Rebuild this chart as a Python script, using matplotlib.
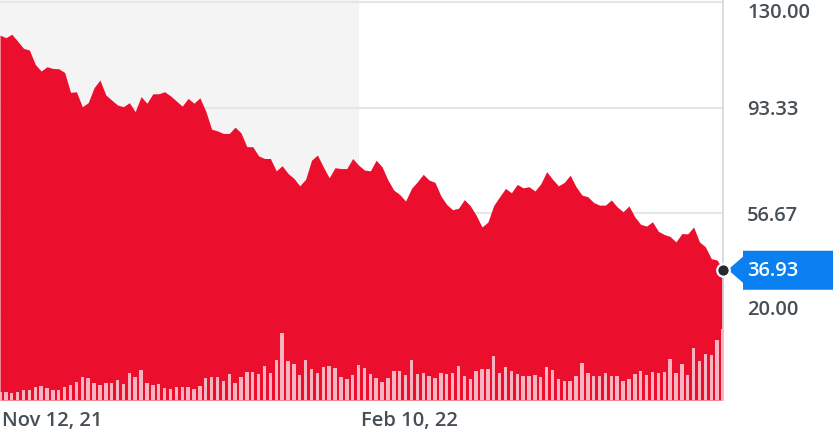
import numpy as np
import matplotlib.pyplot as plt
from matplotlib import transforms
from matplotlib.patches import Polygon

# daily close, Nov 12 2021 onwards
price = [118.5, 117.6, 118.8, 116.4, 113.9, 113.3, 108.3, 106.0, 107.5, 106.9, 106.8,
         105.5, 98.6, 98.8, 93.6, 95.0, 100.2, 102.9, 97.7, 95.9, 94.2,
         93.6, 95.0, 91.9, 97.1, 94.8, 98.1, 98.1, 98.8, 97.4, 95.6, 93.8,
         96.5, 94.8, 96.7, 92.1, 85.8, 85.2, 84.3, 84.3, 86.5, 84.5,
         79.7, 79.7, 76.5, 75.6, 75.6, 71.3, 73.1, 70.4, 68.7, 66.1,
         68.4, 75.0, 76.8, 72.7, 68.9, 72.4, 72.1, 72.1, 75.6, 73.3,
         71.6, 71.3, 75.0, 72.7, 68.1, 64.6, 63.1, 60.8, 65.2, 67.5,
         70.1, 68.1, 67.3, 62.6, 59.6, 57.8, 58.3, 61.3, 59.2, 55.9,
         51.8, 53.5, 59.3, 62.3, 65.2, 63.7, 66.6, 65.4, 65.8, 64.3,
         66.8, 71.0, 68.4, 66.1, 67.3, 69.8, 65.8, 62.9, 62.3, 60.3,
         59.4, 59.4, 61.2, 58.8, 57.1, 59.1, 55.3, 52.7, 52.1, 53.6, 50.3,
         49.2, 48.5, 46.6, 49.5, 49.4, 51.8, 46.6, 44.9, 40.8, 40.3, 36.93]

volume = [8, 8, 7.3, 8, 10, 10, 13, 14, 11.7, 10, 9.7, 13.3, 15, 18, 23, 22.3,
          16.7, 15, 17.3, 16.7, 20, 15.7,
          26.7, 23.3, 29.7, 16.7, 14.7, 15.7, 11.7, 11.3, 13.3, 13.3, 13, 10.7,
          14, 22, 23, 23, 18.7, 26.3, 17.3, 22.7,
          28, 28, 26, 34, 27.3, 40, 66.7, 39, 36.3, 24.7, 40, 31.3, 26.7, 33.3,
          34, 31.7, 23.3, 21.3, 25, 35,
          32.3, 25.7, 22.3, 18.3, 22.3, 29.3, 28.7, 25.3, 40, 26, 26.7, 23.7,
          22, 26.7, 25.7, 27, 34, 23.7, 21.3, 29, 31.3,
          31.3, 44, 27.3, 33.3, 29, 25.7, 23.7, 23.7, 25, 23, 33, 29.7, 20.7,
          19, 19, 23.7, 37.3, 27.3, 23.7, 23.7,
          27.3, 24, 24, 19, 21.3, 25.7, 29, 24.7, 28.3, 26.7, 28.3, 40.7, 27.3,
          35.7, 24.7, 52, 39, 45.7, 44.7, 60, 70.7]

date_labels = ['Nov 12, 21', 'Feb 10, 22']
date_idx = [0, 61]
y_ticks = [130.00, 93.33, 56.67, 20.00]

plt.rcParams['font.family'] = ['Open Sans', 'DejaVu Sans']
txt_col = '#464e56'
fs = 14.5
fw = 'semibold'

fig = plt.figure(figsize=(8.4, 4.3), dpi=100)
ax = fig.add_axes([0, 30/430, 723/840, 400/430])
x = np.arange(len(price))

ax.set_xlim(0, len(price) - 1)
ax.set_ylim(-8.35, 130.7)
ax.axvspan(date_idx[0], date_idx[1], color='#f4f4f4', lw=0, zorder=0)
for t in y_ticks:
    ax.axhline(t, color='#e6e6e6', lw=1.5, zorder=1)
ax.fill_between(x, price, ax.get_ylim()[0], color='#eb0f2d', lw=0, zorder=2)

ax.set_xticks([])
ax.set_yticks([])
for s in ['top', 'left', 'bottom']:
    ax.spines[s].set_visible(False)
ax.spines['right'].set_color('#d3d8de')
ax.spines['right'].set_linewidth(1.2)

# volume bars
ax2 = ax.twinx()
ax2.bar(x, volume, width=0.58, color='#f8b4c1', lw=0)
ax2.set_ylim(0, max(volume) * 400 / 71)
ax2.axis('off')

def px(dx, dy):
    return transforms.ScaledTranslation(dx / 100, dy / 100, fig.dpi_scale_trans)

# right price labels (pixel offsets of baseline from gridline)
yt = ax.get_yaxis_transform()
offs = [-16, -7.5, -8, 3.5]
for t, o in zip(y_ticks, offs):
    ax.text(1 + 24/723, t, f'{t:.2f}', transform=yt + px(0, o), fontsize=fs,
            fontweight=fw, color=txt_col, va='baseline', ha='left', clip_on=False)

# date labels
xt = ax.get_xaxis_transform()
for i, lab in zip(date_idx, date_labels):
    ax.text(i, 0, lab, transform=xt + px(2, -26), fontsize=fs, fontweight=fw,
            color=txt_col, va='baseline', ha='left', clip_on=False)

# last price marker and callout
ax.plot(x[-1], price[-1], 'o', ms=9, mfc='#232a31', mec='white', mew=1.6,
        clip_on=False, zorder=6)
tr = fig.dpi_scale_trans + transforms.ScaledTranslation(1.0, price[-1], yt)
pts = np.array([(5, 0), (20, 13), (20, 19), (110, 19), (110, -20),
                (20, -20), (20, -13)]) / 100
callout = Polygon(pts, closed=True, transform=tr, facecolor='#0a7ff0', lw=0, zorder=5)
ax.add_patch(callout)
callout.set_clip_on(False)
ax.text(1 + 24/723, price[-1], f'{price[-1]:.2f}', transform=yt + px(0, -6.5),
        fontsize=fs, fontweight=fw, color='white', va='baseline', ha='left',
        clip_on=False, zorder=7)

fig.savefig('out.png', dpi=100)
